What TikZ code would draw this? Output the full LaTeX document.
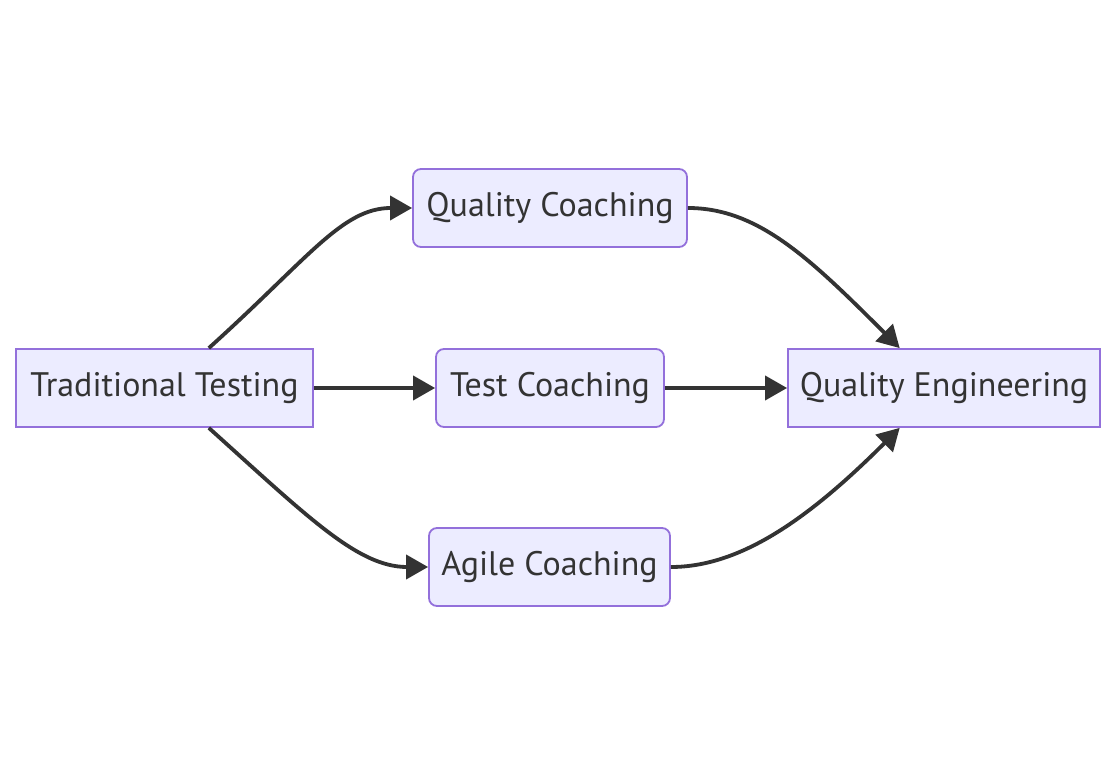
\documentclass[tikz,border=0pt]{standalone}
\usepackage{fontspec}
\setmainfont{PT Sans}
\usetikzlibrary{arrows.meta}
\definecolor{boxfill}{HTML}{ECECFF}
\definecolor{boxline}{HTML}{9370DB}
\definecolor{ink}{HTML}{333333}
\tikzset{
  box/.style={draw=boxline,fill=boxfill,line width=1.8pt,minimum height=78pt,
    inner sep=0pt,text=ink,font=\fontsize{34}{40}\selectfont},
  rbox/.style={box,rounded corners=8pt},
  edge/.style={draw=ink,line width=3.8pt,-{Triangle[length=22pt,width=24pt]}}
}
\begin{document}
\begin{tikzpicture}[x=1pt,y=1pt]
      \useasboundingbox (0,0) rectangle (1116,776);
      \node[box,minimum width=297pt] (T) at (164.5,388) {Traditional Testing};
      \node[rbox,minimum width=274pt] (Q) at (550,568) {Quality Coaching};
      \node[rbox,minimum width=228pt] (C) at (550,388) {Test Coaching};
      \node[rbox,minimum width=241pt] (A) at (549.5,209) {Agile Coaching};
      \node[box,minimum width=312pt] (E) at (944,388) {Quality Engineering};
        % edges
      \draw[edge] (T.42.5) .. controls +(100,90) and +(-70,0) .. (Q.west);
      \draw[edge] (T.east) -- (C.west);
      \draw[edge] (T.-42.5) .. controls +(100,-90) and +(-70,0) .. (A.west);
      \draw[edge] (Q.east) .. controls +(70,0) and +(-90,90) .. (E.138.4);
      \draw[edge] (C.east) -- (E.west);
      \draw[edge] (A.east) .. controls +(70,0) and +(-90,-90) .. (E.-138.4);
    \end{tikzpicture}
\end{document}
